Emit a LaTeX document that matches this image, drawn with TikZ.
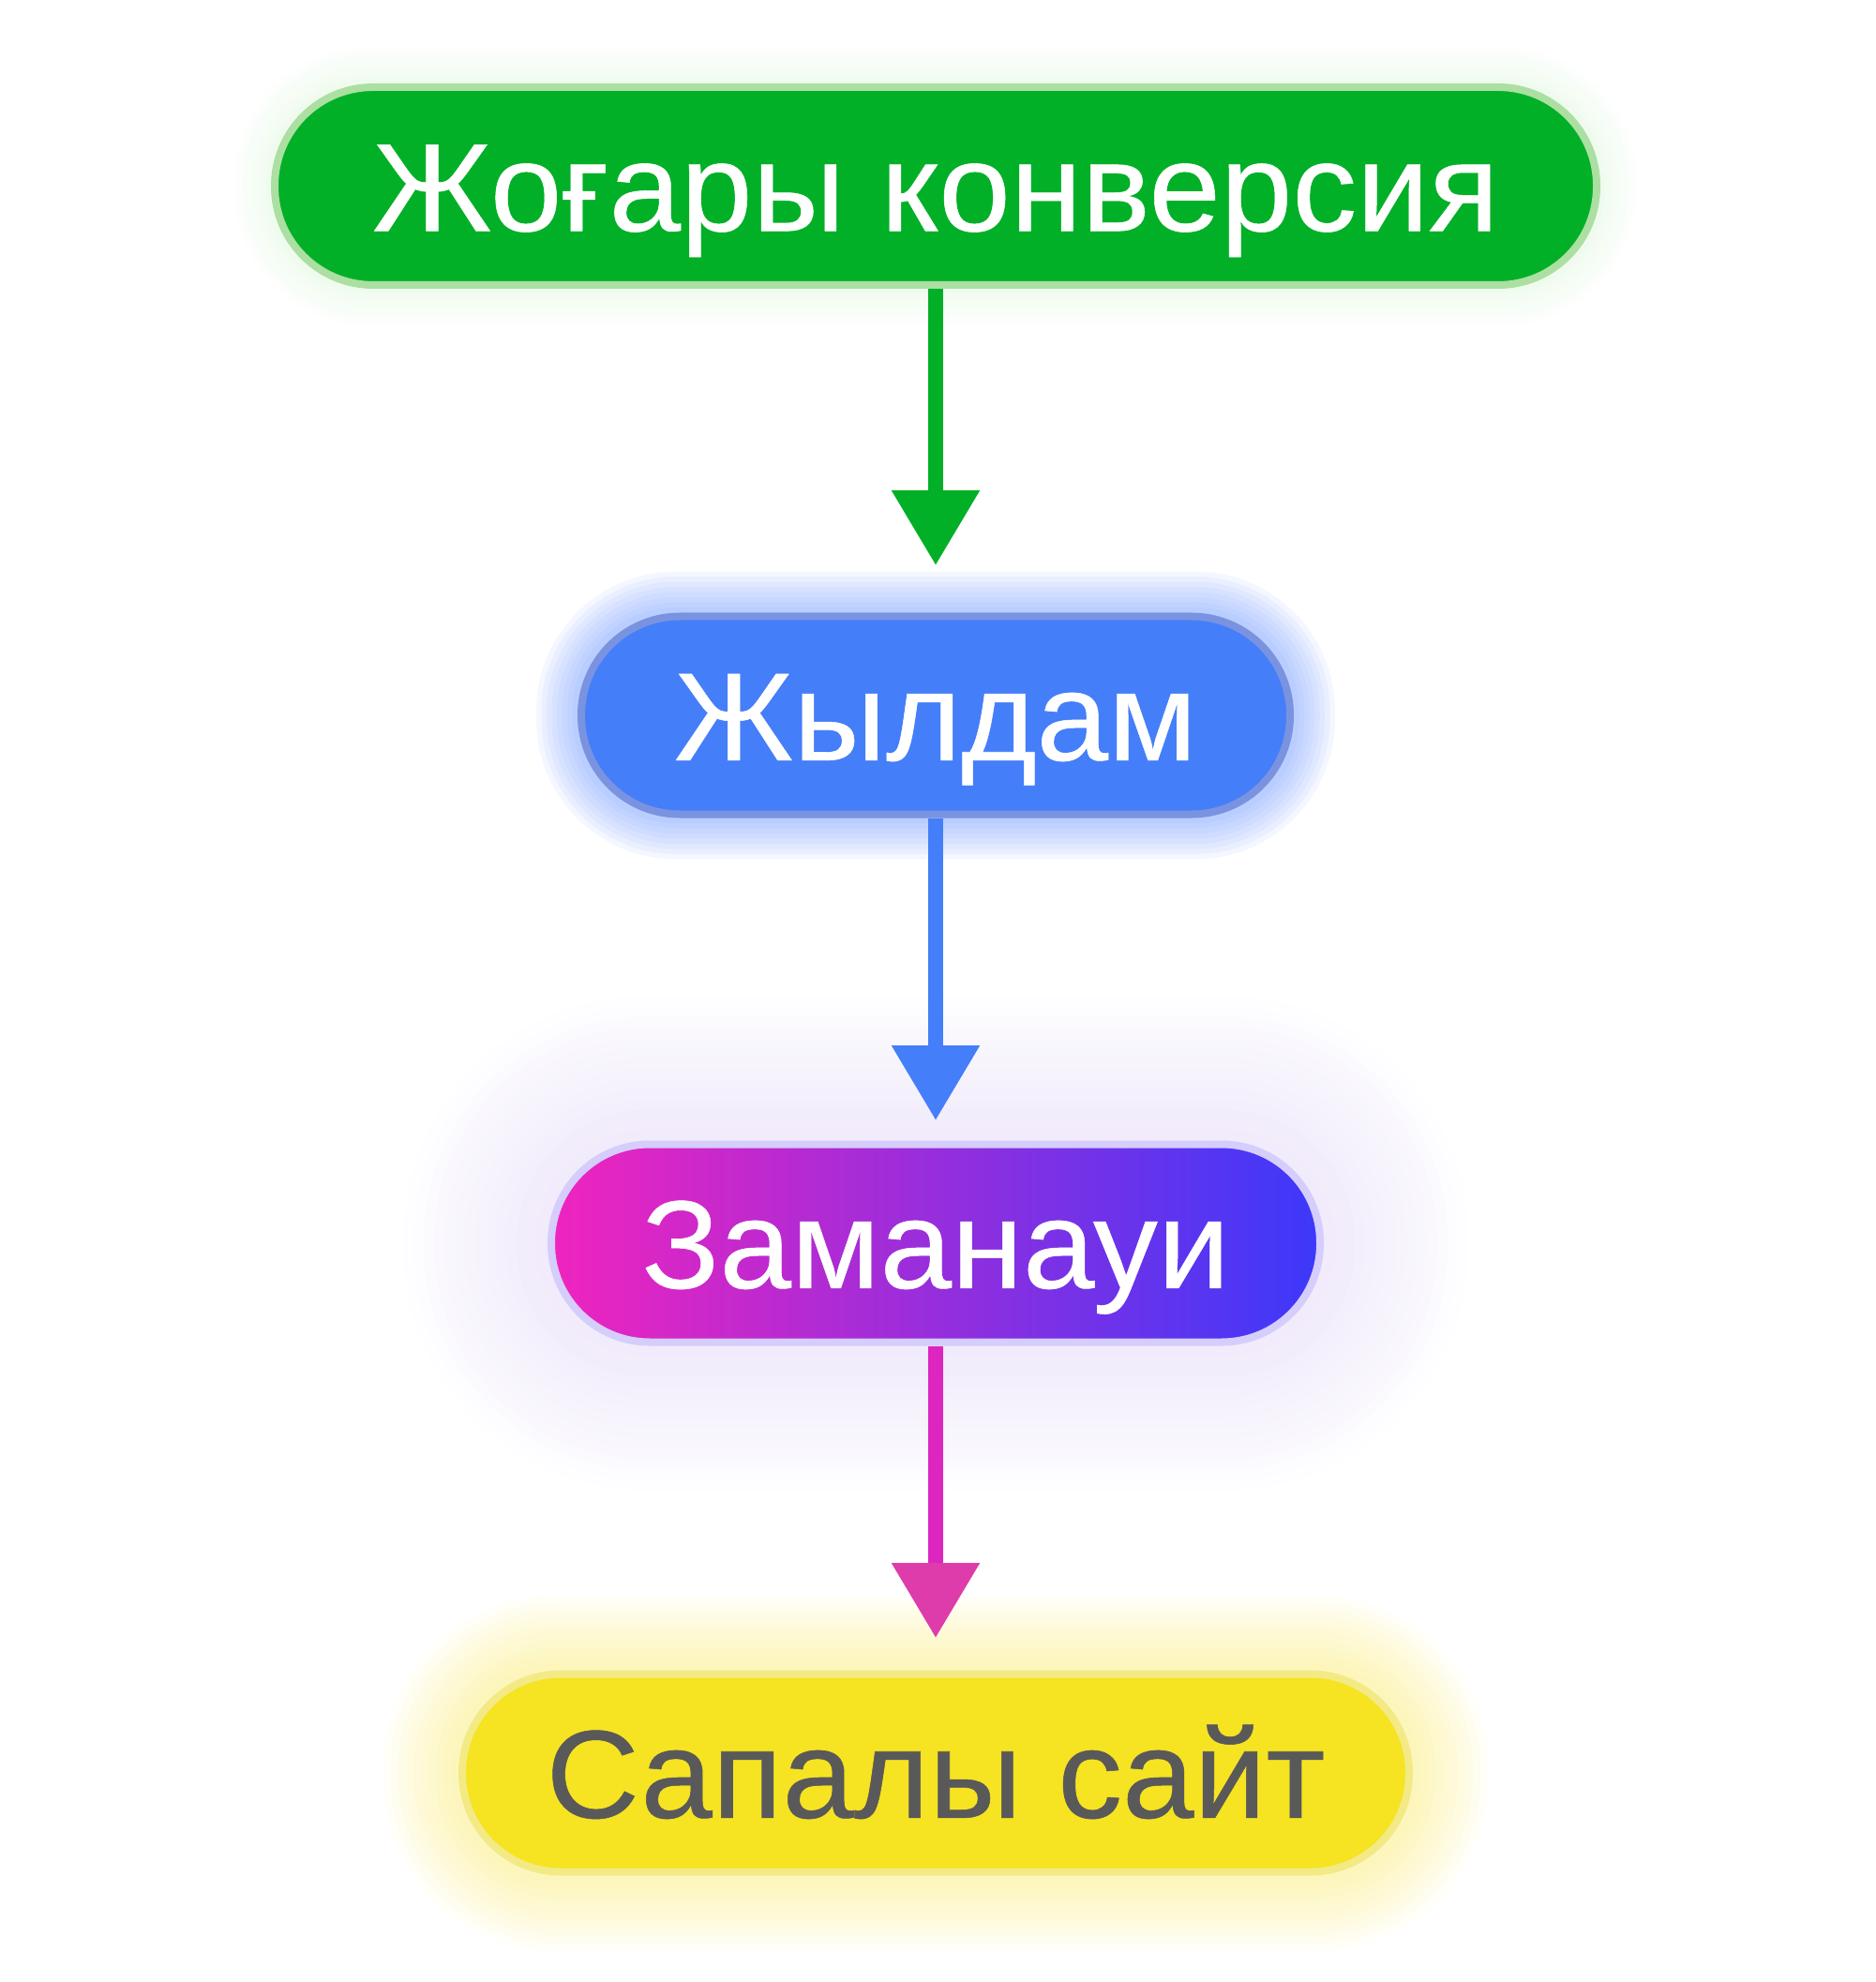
\documentclass[tikz,border=0pt]{standalone}
\usepackage{fontspec}
\setmainfont[FakeBold=0.4,FakeStretch=1.03]{Liberation Sans}
\usetikzlibrary{calc,arrows.meta,positioning,backgrounds}
\definecolor{convgreen}{RGB}{2,176,40}
\definecolor{convgreenB}{RGB}{172,223,162}
\definecolor{convgreenG}{RGB}{190,238,185}
\definecolor{fastblue}{RGB}{69,126,249}
\definecolor{fastblueB}{RGB}{122,147,224}
\definecolor{fastblueG}{RGB}{110,150,255}
\definecolor{modpink}{RGB}{240,36,190}
\definecolor{modblue}{RGB}{60,56,250}
\definecolor{modlavB}{RGB}{213,205,251}
\definecolor{modlavG}{RGB}{205,185,240}
\definecolor{modarrow}{RGB}{221,38,192}
\definecolor{modtip}{RGB}{222,60,170}
\definecolor{siteyellow}{RGB}{246,227,34}
\definecolor{siteyellowB}{RGB}{243,234,134}
\definecolor{siteyellowG}{RGB}{250,232,90}
\definecolor{sitegrey}{RGB}{89,89,89}
\tikzset{
  pill/.style={rectangle, rounded corners=1.05cm, minimum height=2.11cm,
               inner sep=0pt, line width=0.08cm, text=white,
               text height=27.2pt, text depth=0pt,
               font=\fontsize{38}{46}\selectfont},
  pillconv/.style={pill, fill=convgreen, draw=convgreenB, minimum width=14.10cm},
  pillfast/.style={pill, fill=fastblue, draw=fastblueB, minimum width=7.56cm},
  pillmod/.style ={pill, left color=modpink, right color=modblue, draw=modlavB,
                   minimum width=8.20cm},
  pillsite/.style={pill, fill=siteyellow, draw=siteyellowB, text=sitegrey,
                   minimum width=10.10cm},
  flow/.style={line width=0.16cm, -{Triangle[length=0.8cm,width=0.9cm]}},
}
% soft halo round a pill node: node, colour, steps, step, opacity
\newcommand{\halo}[5]{%
  \foreach \g in {1,...,#3} {
    \pgfmathsetmacro{\rr}{1.05+\g*#4}
    \fill[#2, opacity=#5, rounded corners=\rr cm]
      ($(#1.south west)+(-\g*#4,-\g*#4)$) rectangle ($(#1.north east)+(\g*#4,\g*#4)$);
  }}

\begin{document}
\begin{tikzpicture}
  \useasboundingbox (0,0) rectangle (20,-21.14);
  \node[pillconv] (conv) at (9.98,-1.985) {Жоғары конверсия};
  \node[pillfast] (fast) at (9.98,-7.63) {Жылдам};
  \node[pillmod]  (mod)  at (9.98,-13.26) {Заманауи};
  \node[pillsite] (site) at (9.98,-18.91) {Сапалы сайт};
  \coordinate (tipA) at (9.98,-6.03);
  \coordinate (tipB) at (9.98,-11.95);
  \coordinate (tipC) at (9.98,-17.47);
  \begin{scope}[on background layer]
    \halo{conv}{convgreenG}{8}{0.05}{0.03}
    \halo{fast}{fastblueG}{8}{0.055}{0.08}
    \halo{mod}{modlavG}{14}{0.11}{0.025}
    \halo{site}{siteyellowG}{10}{0.08}{0.05}
  \end{scope}
  \draw[flow, convgreen] (conv.south) -- (tipA);
  \draw[flow, fastblue] (fast.south) -- (tipB);
  \draw[line width=0.16cm, modarrow,
        -{Triangle[length=0.8cm,width=0.9cm,color=modtip,fill=modtip]}] (mod.south) -- (tipC);
\end{tikzpicture}
\end{document}
